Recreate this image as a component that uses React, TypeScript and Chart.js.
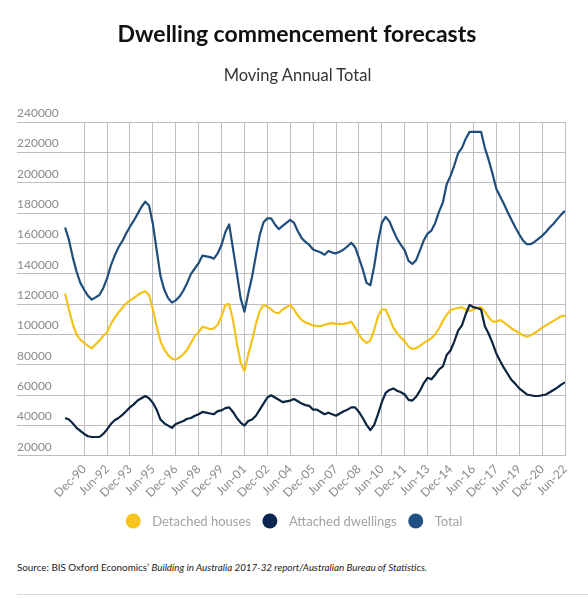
import React, { useEffect, useRef } from 'react';
import { Chart, registerables } from 'chart.js';

Chart.register(...registerables);

// Quarterly categories (Sep-89 .. Jun-22)
const QUARTERS: string[] = [
  'Sep-89', 'Dec-89',
  'Mar-90', 'Jun-90', 'Sep-90', 'Dec-90',
  'Mar-91', 'Jun-91', 'Sep-91', 'Dec-91',
  'Mar-92', 'Jun-92', 'Sep-92', 'Dec-92',
  'Mar-93', 'Jun-93', 'Sep-93', 'Dec-93',
  'Mar-94', 'Jun-94', 'Sep-94', 'Dec-94',
  'Mar-95', 'Jun-95', 'Sep-95', 'Dec-95',
  'Mar-96', 'Jun-96', 'Sep-96', 'Dec-96',
  'Mar-97', 'Jun-97', 'Sep-97', 'Dec-97',
  'Mar-98', 'Jun-98', 'Sep-98', 'Dec-98',
  'Mar-99', 'Jun-99', 'Sep-99', 'Dec-99',
  'Mar-00', 'Jun-00', 'Sep-00', 'Dec-00',
  'Mar-01', 'Jun-01', 'Sep-01', 'Dec-01',
  'Mar-02', 'Jun-02', 'Sep-02', 'Dec-02',
  'Mar-03', 'Jun-03', 'Sep-03', 'Dec-03',
  'Mar-04', 'Jun-04', 'Sep-04', 'Dec-04',
  'Mar-05', 'Jun-05', 'Sep-05', 'Dec-05',
  'Mar-06', 'Jun-06', 'Sep-06', 'Dec-06',
  'Mar-07', 'Jun-07', 'Sep-07', 'Dec-07',
  'Mar-08', 'Jun-08', 'Sep-08', 'Dec-08',
  'Mar-09', 'Jun-09', 'Sep-09', 'Dec-09',
  'Mar-10', 'Jun-10', 'Sep-10', 'Dec-10',
  'Mar-11', 'Jun-11', 'Sep-11', 'Dec-11',
  'Mar-12', 'Jun-12', 'Sep-12', 'Dec-12',
  'Mar-13', 'Jun-13', 'Sep-13', 'Dec-13',
  'Mar-14', 'Jun-14', 'Sep-14', 'Dec-14',
  'Mar-15', 'Jun-15', 'Sep-15', 'Dec-15',
  'Mar-16', 'Jun-16', 'Sep-16', 'Dec-16',
  'Mar-17', 'Jun-17', 'Sep-17', 'Dec-17',
  'Mar-18', 'Jun-18', 'Sep-18', 'Dec-18',
  'Mar-19', 'Jun-19', 'Sep-19', 'Dec-19',
  'Mar-20', 'Jun-20', 'Sep-20', 'Dec-20',
  'Mar-21', 'Jun-21', 'Sep-21', 'Dec-21',
  'Mar-22', 'Jun-22',
];

// Axis tick labels shown on the x axis
const TICK_LABELS: string[] = [
  'Dec-90', 'Jun-92', 'Dec-93', 'Jun-95', 'Dec-96', 'Jun-98', 'Dec-99', 'Jun-01',
  'Dec-02', 'Jun-04', 'Dec-05', 'Jun-07', 'Dec-08', 'Jun-10', 'Dec-11', 'Jun-13',
  'Dec-14', 'Jun-16', 'Dec-17', 'Jun-19', 'Dec-20', 'Jun-22',
];

const SERIES_NAMES: string[] = ['Detached houses', 'Attached dwellings', 'Total'];

const DETACHED: number[] = [
  127000, 116500, 107000, 100000, 96500, 94500, 92500, 91000, 93500, 96000,
  99000, 101500, 107000, 111000, 114500, 117500, 120500, 122500, 124000, 126000,
  127500, 128500, 126000, 116500, 105500, 95500, 90000, 86500, 84000, 83500,
  85000, 87000, 90000, 94500, 99000, 101500, 105000, 104500, 103500, 104000,
  106500, 112000, 119500, 120000, 109500, 94500, 81500, 76000, 87000, 96000,
  107000, 115500, 119500, 118500, 116500, 114500, 114000, 116500, 118000, 119500,
  116500, 112500, 109500, 108000, 107000, 106000, 105500, 105500, 106500, 107000,
  107500, 107000, 107000, 107000, 107500, 108500, 104500, 100000, 96500, 94500,
  96000, 103000, 112000, 116500, 116500, 111000, 104500, 101000, 98000, 95500,
  92000, 90500, 91000, 92500, 94500, 96000, 97500, 100000, 104000, 109000,
  113000, 116000, 117000, 117500, 118000, 116500, 115500, 116500, 117500, 118000,
  115000, 111500, 108500, 108500, 109500, 108000, 106000, 104000, 102500, 101000,
  99500, 98500, 99500, 101000, 102500, 104500, 106000, 107500, 109000, 110500,
  112000, 112500,
];

const ATTACHED: number[] = [
  45000, 44000, 41500, 38500, 36500, 34500, 33000, 32500, 32500, 32500,
  34500, 37500, 41000, 43500, 45000, 47000, 49500, 52000, 54000, 56500,
  58000, 59500, 58000, 55000, 50500, 44000, 41500, 40000, 38500, 41000,
  42000, 43000, 44500, 45000, 46500, 47500, 49000, 48500, 48000, 47500,
  49500, 50000, 51500, 52000, 49000, 45000, 42000, 40000, 43000, 44000,
  46500, 50500, 54500, 58500, 60000, 58500, 57000, 55500, 56000, 56500,
  57500, 56000, 54500, 53500, 53000, 50500, 50500, 49000, 47500, 48500,
  47500, 46500, 48000, 49500, 50500, 52000, 52000, 49000, 45000, 40500,
  37000, 40500, 47500, 55500, 61500, 63500, 64500, 63000, 62000, 60500,
  57000, 56500, 59000, 63000, 68000, 71500, 70500, 73500, 77000, 79000,
  86500, 89500, 95500, 102500, 106000, 113500, 119500, 118000, 117500, 116500,
  105500, 100500, 94500, 87500, 82500, 78000, 74000, 70000, 67500, 64500,
  62500, 60500, 60000, 59500, 59500, 60000, 60500, 62000, 63500, 65000,
  67000, 68500,
];

const TOTAL: number[] = [
  170500, 162500, 151000, 141500, 134000, 129500, 125500, 123000, 124500, 126000,
  130500, 137000, 145500, 152000, 157500, 161500, 166500, 171000, 175000, 179500,
  184000, 187500, 185000, 173000, 155500, 138500, 129500, 124000, 121000, 122500,
  125000, 129000, 134000, 140000, 143500, 147000, 152000, 151500, 151000, 150000,
  153500, 159000, 167500, 172500, 156500, 140500, 124000, 115000, 127000, 138000,
  152000, 165500, 174000, 176500, 176500, 172500, 169500, 171500, 173500, 175500,
  173500, 168000, 163500, 161000, 159000, 156000, 155000, 154000, 152500, 155000,
  154000, 153500, 154500, 156000, 158000, 160500, 157500, 150500, 143000, 134000,
  132500, 145000, 161000, 173500, 177500, 174500, 168500, 163000, 159000, 155500,
  148500, 146500, 149000, 155500, 162000, 166500, 168500, 173500, 181000, 187000,
  199000, 204500, 211500, 219500, 223000, 229000, 233500, 233500, 233500, 233500,
  223000, 215000, 206000, 196000, 191000, 186000, 180500, 175500, 170500, 166000,
  162000, 159500, 159500, 161000, 163000, 165000, 167500, 170500, 173000, 176000,
  179000, 181500,
];

const SERIES_VALUES: number[][] = [DETACHED, ATTACHED, TOTAL];
const LINE_COLORS = ['#f4c31a', '#0c2342', '#1f4e7d'];
const DOT_COLORS = ['#f7c41b', '#0a2550', '#215084'];
const DRAW_ORDER = [2, 1, 0];

const FONT = 'Lato, "Open Sans", sans-serif';

const dotLegend = {
  id: 'dotLegend',
  afterDraw(chart: any, _args: any, opts: any) {
    const ctx: CanvasRenderingContext2D = chart.ctx;
    const y = opts.y;
    const r = 7.5;
    const gapText = 19;
    const gapItem = 19;
    ctx.save();
    ctx.font = `13px ${FONT}`;
    const items = chart.data.datasets.map((ds: any, i: number) => ({
      text: ds.label as string,
      color: DOT_COLORS[i],
      w: ctx.measureText(ds.label).width,
    }));
    let total = r;
    items.forEach((it: any, i: number) => {
      total += gapText + it.w + (i < items.length - 1 ? gapItem : 0);
    });
    let x = (chart.width - total) / 2 + r;
    items.forEach((it: any) => {
      ctx.beginPath();
      ctx.arc(x, y, r, 0, Math.PI * 2);
      ctx.fillStyle = it.color;
      ctx.fill();
      ctx.fillStyle = '#a3a3a3';
      ctx.textBaseline = 'middle';
      ctx.textAlign = 'left';
      ctx.fillText(it.text, x + gapText, y + 1);
      x += gapText + it.w + gapItem;
    });
    ctx.restore();
  },
};

export default function App() {
  const canvasRef = useRef<HTMLCanvasElement | null>(null);

  useEffect(() => {
    if (!canvasRef.current) return;
    const chart = new Chart(canvasRef.current, {
      type: 'line',
      data: {
        datasets: SERIES_NAMES.map((name, i) => ({
          label: name,
          data: SERIES_VALUES[i].map((v, q) => ({ x: q, y: v })),
          borderColor: LINE_COLORS[i],
          backgroundColor: LINE_COLORS[i],
          borderWidth: 2.2,
          pointRadius: 0,
          pointHoverRadius: 0,
          tension: 0,
          fill: false,
          order: DRAW_ORDER[i],
          borderJoinStyle: 'round' as const,
        })),
      },
      options: {
        responsive: false,
        animation: false,
        events: [],
        layout: { padding: { left: 17, right: 23, top: 122, bottom: 39 } },
        scales: {
          x: {
            type: 'linear',
            min: -12.6,
            max: QUARTERS.length - 1,
            bounds: 'data',
            afterBuildTicks: (scale: any) => {
              scale.ticks = TICK_LABELS.map((l) => ({ value: QUARTERS.indexOf(l) }));
            },
            ticks: {
              autoSkip: false,
              minRotation: 45,
              maxRotation: 45,
              padding: 6,
              color: '#8a8a8a',
              font: { family: FONT, size: 12 },
              callback: (v: any) => QUARTERS[Math.round(Number(v))],
            },
            grid: { color: '#bdbdbd', lineWidth: 1, drawTicks: false },
            border: { display: false },
          },
          y: {
            min: 20000,
            max: 240000,
            ticks: {
              stepSize: 20000,
              mirror: true,
              padding: 0,
              labelOffset: -9,
              color: '#8a8a8a',
              font: { family: FONT, size: 12 },
              callback: (v: any) => String(v),
            },
            grid: { color: '#bdbdbd', lineWidth: 1, drawTicks: false },
            border: { display: false },
          },
        },
        plugins: {
          legend: { display: false },
          tooltip: { enabled: false },
          title: { display: false },
          dotLegend: { y: 521 },
        } as any,
      },
      plugins: [dotLegend],
    });
    return () => chart.destroy();
  }, []);

  return (
    <div style={{ position: 'absolute', left: 0, top: 0, width: 588, height: 599, background: '#ffffff', overflow: 'hidden' }}>
      <canvas ref={canvasRef} width={588} height={545} style={{ position: 'absolute', left: 0, top: 0, width: 588, height: 545 }} />
      <div
        style={{
          position: 'absolute',
          left: 0,
          top: 19,
          width: 594,
          textAlign: 'center',
          fontFamily: FONT,
          fontSize: 23,
          fontWeight: 'bold',
          lineHeight: '28px',
          color: '#111111',
          whiteSpace: 'nowrap',
        }}
      >
        Dwelling commencement forecasts
      </div>
      <div
        style={{
          position: 'absolute',
          left: 0,
          top: 65,
          width: 595,
          textAlign: 'center',
          fontFamily: FONT,
          fontSize: 16.5,
          lineHeight: '20px',
          color: '#333333',
          whiteSpace: 'nowrap',
        }}
      >
        Moving Annual Total
      </div>
      <div
        style={{
          position: 'absolute',
          left: 17,
          top: 561,
          fontFamily: FONT,
          fontSize: 9.8,
          lineHeight: '12px',
          color: '#222222',
          whiteSpace: 'nowrap',
        }}
      >
        Source: BIS Oxford Economics’ <i>Building in Australia 2017-32 report/Australian Bureau of Statistics.</i>
      </div>
      <div style={{ position: 'absolute', left: 17, top: 594, width: 571, height: 1, background: '#dadada' }} />
    </div>
  );
}
